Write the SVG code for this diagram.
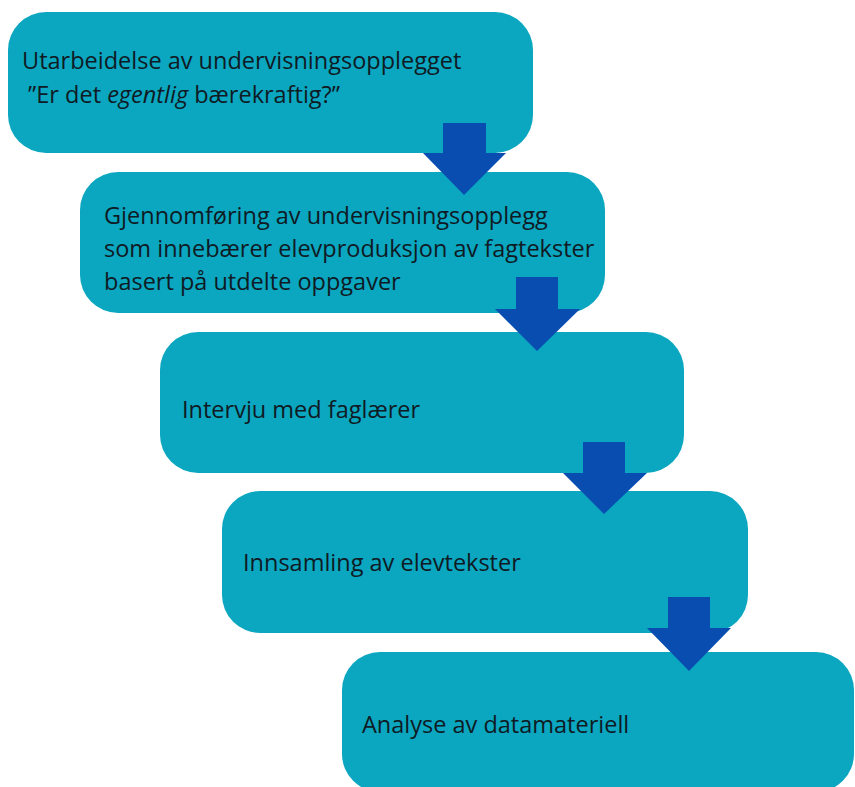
<svg xmlns="http://www.w3.org/2000/svg" width="855" height="787" viewBox="0 0 855 787">
<style>
.box{fill:#0ba6bf;}
.t{font-family:"Open Sans","Noto Sans",sans-serif;font-size:23.5px;fill:#0f1a24;}
.arr{fill:#0a4db1;}
</style>
<rect width="855" height="787" fill="#ffffff"/>
<g id="node1"><rect class="box" x="8" y="12" width="525" height="141" rx="38"/>
<text class="t" x="22" y="69">Utarbeidelse av undervisningsopplegget</text>
<text class="t" x="22" y="103" xml:space="preserve"> ”Er det <tspan font-style="italic">egentlig</tspan> bærekraftig?”</text></g>
<g id="node2"><rect class="box" x="80" y="172" width="525" height="141" rx="38"/>
<text class="t" x="104" y="224">Gjennomføring av undervisningsopplegg</text>
<text class="t" x="104" y="257">som innebærer elevproduksjon av fagtekster</text>
<text class="t" x="104" y="290">basert på utdelte oppgaver</text></g>
<g id="node3"><rect class="box" x="160" y="332" width="524" height="141" rx="38"/>
<text class="t" x="182" y="418">Intervju med faglærer</text></g>
<g id="node4"><rect class="box" x="222" y="491" width="526" height="142" rx="38"/>
<text class="t" x="243" y="571">Innsamling av elevtekster</text></g>
<g id="node5"><rect class="box" x="342" y="652" width="512" height="140" rx="38"/>
<text class="t" x="362" y="733">Analyse av datamateriell</text></g>
<g id="connectors">
<polygon class="arr" points="443,123 486,123 486,153 506,153 464,195 423,153 443,153"/>
<polygon class="arr" points="516,277 558,277 558,309 580,309 537,351 495,309 516,309"/>
<polygon class="arr" points="583,442 625,442 625,473 647,473 604,514 563,473 583,473"/>
<polygon class="arr" points="668,597 710,597 710,628 731,628 689,671 647,628 668,628"/>
</g>
</svg>
